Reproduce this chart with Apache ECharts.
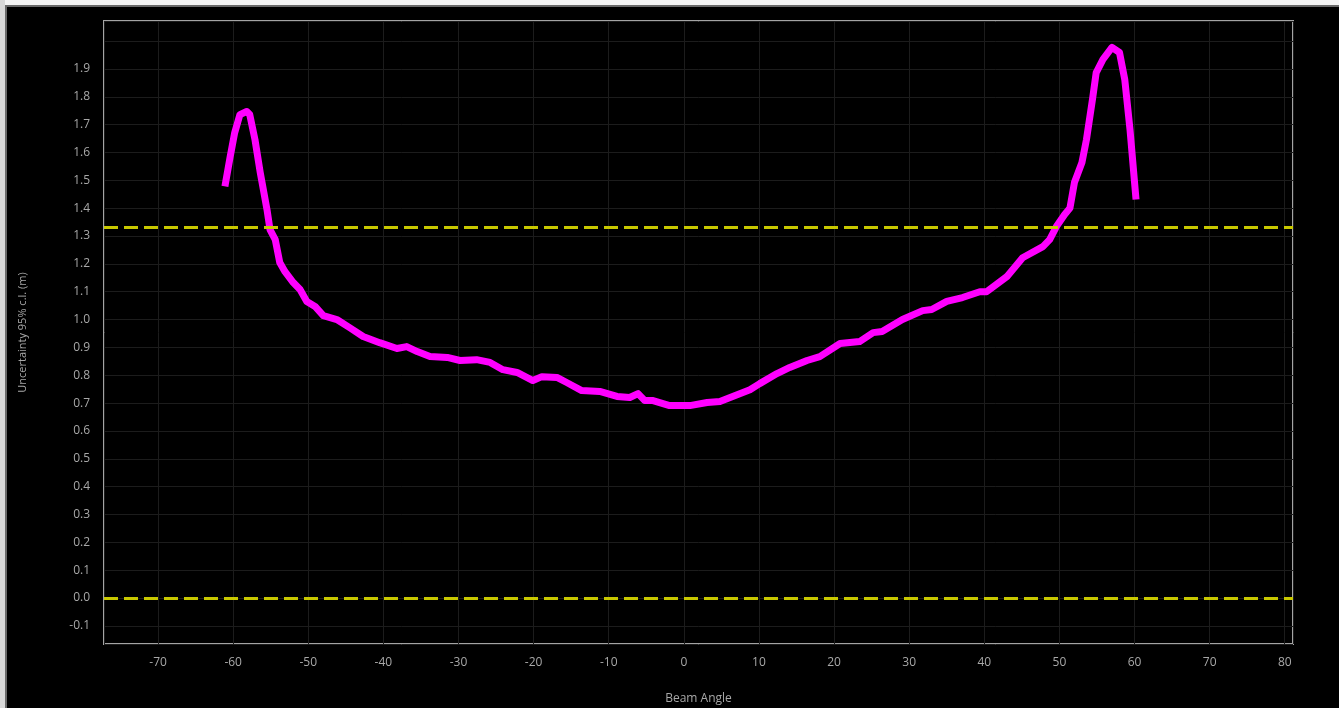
<!DOCTYPE html>
<html>
<head>
<meta charset="utf-8">
<script src="https://cdn.jsdelivr.net/npm/echarts@6/dist/echarts.min.js"></script>
<style>
  html, body { margin: 0; padding: 0; background: #000; }
  #chart { width: 1339px; height: 708px; }
</style>
</head>
<body>
<div id="chart"></div>
<script>
// beam angle (deg) and uncertainty (m)
const angles = [
  -61.1, -60.4, -59.8, -59.1, -58.2, -57.8, -57.1, -56.4, -55.5, -55.1,
  -54.4, -53.8, -53.1, -52.0, -51.1, -50.2, -49.1, -48.0, -46.2, -44.5,
  -42.7, -40.5, -38.2, -36.9, -35.5, -33.8, -31.5, -29.8, -27.6, -25.8,
  -24.1, -22.2, -20.1, -18.9, -16.9, -15.6, -13.6, -11.2, -8.9, -7.2,
  -6.1, -5.2, -4.1, -1.9, 0.8, 3.1, 4.8, 6.5, 8.8, 10.1,
  12.4, 14.1, 16.4, 18.1, 20.8, 23.4, 25.2, 26.4, 29.1, 31.8,
  33.0, 35.0, 37.1, 39.4, 40.3, 43.0, 45.1, 47.8, 48.7, 49.6,
  50.7, 51.4, 52.0, 53.0, 53.6, 54.4, 54.9, 55.8, 57.0, 58.0,
  58.7, 59.4, 60.2
]
const uncertainty = [
  1.478, 1.585, 1.671, 1.736, 1.747, 1.736, 1.646, 1.528, 1.395, 1.323,
  1.287, 1.205, 1.172, 1.133, 1.108, 1.065, 1.047, 1.014, 1.000, 0.971,
  0.939, 0.917, 0.896, 0.903, 0.885, 0.867, 0.864, 0.853, 0.856, 0.846,
  0.820, 0.810, 0.781, 0.795, 0.792, 0.774, 0.745, 0.742, 0.724, 0.720,
  0.734, 0.709, 0.709, 0.691, 0.691, 0.702, 0.706, 0.724, 0.748, 0.770,
  0.806, 0.828, 0.853, 0.867, 0.914, 0.921, 0.953, 0.957, 1.000, 1.032,
  1.036, 1.065, 1.079, 1.100, 1.100, 1.154, 1.222, 1.262, 1.287, 1.334,
  1.377, 1.400, 1.492, 1.564, 1.646, 1.790, 1.887, 1.934, 1.977, 1.959,
  1.862, 1.682, 1.431
]
// dashed reference levels
const limits = [1.334, 0.0]

const points = angles.map((a, i) => [a, uncertainty[i]])

var chart = echarts.init(document.getElementById('chart'))
const labelColor = '#a8a8a8'
const gridColor = '#1c1c1c'

chart.setOption({
  backgroundColor: '#000',
  animation: false,
  graphic: [
    { type: 'rect', left: 0, top: 0, shape: { width: 1339, height: 5 }, style: { fill: '#f4f4f4' } },
    { type: 'rect', left: 0, top: 0, shape: { width: 5, height: 708 }, style: { fill: '#d8d8d8' } },
    { type: 'rect', left: 5, top: 5, shape: { width: 1334, height: 2 }, style: { fill: '#6a6a6a' } },
    { type: 'rect', left: 5, top: 5, shape: { width: 2, height: 703 }, style: { fill: '#6a6a6a' } }
  ],
  grid: {
    left: 104,
    right: 46,
    top: 21,
    bottom: 64,
    outerBoundsMode: 'none',
    show: true,
    borderColor: '#a4a4a4',
    borderWidth: 2
  },
  xAxis: {
    type: 'value',
    min: -77.2,
    max: 81.1,
    splitNumber: 16,
    name: 'Beam Angle',
    nameLocation: 'middle',
    nameGap: 49,
    nameTextStyle: { color: labelColor, fontSize: 12, fontFamily: 'Open Sans' },
    axisLine: { show: false },
    axisTick: { show: false },
    axisLabel: {
      color: labelColor, fontSize: 12, fontFamily: 'Open Sans', margin: 13,
      showMinLabel: false, showMaxLabel: false
    },
    splitLine: { show: true, lineStyle: { color: gridColor, width: 1 } }
  },
  yAxis: {
    type: 'value',
    min: -0.165,
    max: 2.072,
    splitNumber: 22,
    name: 'Uncertainty 95% c.l. (m)',
    nameLocation: 'middle',
    nameGap: 76,
    nameTextStyle: { color: labelColor, fontSize: 11, fontFamily: 'Open Sans' },
    axisLine: { show: false },
    axisTick: { show: false },
    axisLabel: {
      color: labelColor, fontSize: 12, fontFamily: 'Open Sans', margin: 14,
      showMinLabel: false, showMaxLabel: false,
      formatter: v => (v > 1.95 ? '' : v.toFixed(1))
    },
    splitLine: { show: true, lineStyle: { color: gridColor, width: 1 } }
  },
  series: [
    {
      type: 'line',
      data: points,
      showSymbol: false,
      smooth: false,
      lineStyle: { color: '#ff00ff', width: 7, join: 'round', cap: 'butt' },
      markLine: {
        silent: true,
        symbol: ['none', 'none'],
        label: { show: false },
        lineStyle: { color: '#c8c800', type: [14, 6], width: 3 },
        data: limits.map(v => ({ yAxis: v }))
      },
      z: 3
    }
  ]
})
</script>
</body>
</html>
